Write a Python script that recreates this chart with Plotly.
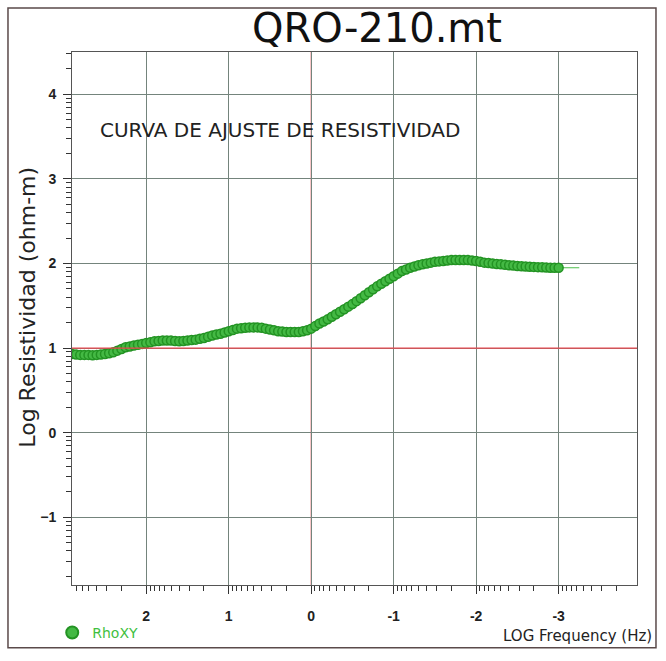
import math
import plotly.graph_objects as go

# ---- data ----
log_freq = [2.90, 2.85, 2.80, 2.75, 2.70, 2.65, 2.60, 2.55, 2.50, 2.45,
            2.40, 2.35, 2.30, 2.25, 2.20, 2.15, 2.10, 2.05, 2.00, 1.95,
            1.90, 1.85, 1.80, 1.75, 1.70, 1.65, 1.60, 1.55, 1.50, 1.45,
            1.40, 1.35, 1.30, 1.25, 1.20, 1.15, 1.10, 1.05, 1.00, 0.95,
            0.90, 0.85, 0.80, 0.75, 0.70, 0.65, 0.60, 0.55, 0.50, 0.45,
            0.40, 0.35, 0.30, 0.25, 0.20, 0.15, 0.10, 0.05, 0.00, -0.05,
            -0.10, -0.15, -0.20, -0.25, -0.30, -0.35, -0.40, -0.45, -0.50, -0.55,
            -0.60, -0.65, -0.70, -0.75, -0.80, -0.85, -0.90, -0.95, -1.00, -1.05,
            -1.10, -1.15, -1.20, -1.25, -1.30, -1.35, -1.40, -1.45, -1.50, -1.55,
            -1.60, -1.65, -1.70, -1.75, -1.80, -1.85, -1.90, -1.95, -2.00, -2.05,
            -2.10, -2.15, -2.20, -2.25, -2.30, -2.35, -2.40, -2.45, -2.50, -2.55,
            -2.60, -2.65, -2.70, -2.75, -2.80, -2.85, -2.90, -2.95, -3.00]
rho_xy = [0.93, 0.925, 0.92, 0.92, 0.92, 0.915, 0.92, 0.925, 0.93, 0.94,
          0.95, 0.97, 0.99, 1.01, 1.02, 1.03, 1.04, 1.05, 1.06, 1.07,
          1.08, 1.085, 1.09, 1.09, 1.09, 1.085, 1.08, 1.085, 1.09, 1.095,
          1.10, 1.11, 1.12, 1.135, 1.15, 1.16, 1.17, 1.185, 1.20, 1.215,
          1.23, 1.235, 1.24, 1.245, 1.245, 1.245, 1.24, 1.23, 1.22, 1.21,
          1.20, 1.195, 1.19, 1.19, 1.19, 1.19, 1.20, 1.21, 1.23, 1.26,
          1.29, 1.315, 1.34, 1.37, 1.40, 1.43, 1.46, 1.49, 1.52, 1.555,
          1.59, 1.625, 1.66, 1.695, 1.73, 1.76, 1.79, 1.82, 1.85, 1.88,
          1.91, 1.93, 1.95, 1.965, 1.98, 1.99, 2.00, 2.01, 2.02, 2.025,
          2.03, 2.035, 2.04, 2.04, 2.04, 2.04, 2.04, 2.035, 2.03, 2.02,
          2.01, 2.005, 2.00, 1.995, 1.99, 1.985, 1.98, 1.975, 1.97, 1.967,
          1.965, 1.962, 1.96, 1.957, 1.955, 1.952, 1.95, 1.95, 1.95]

fit_freq = [2.9, 2.5, 2.0, 1.5, 1.0, 0.7, 0.3, 0.0, -0.5, -1.0,
            -1.5, -1.8, -2.0, -2.5, -3.0, -3.25]
fit_rho = [0.93, 0.93, 1.06, 1.09, 1.20, 1.245, 1.19, 1.23, 1.52, 1.85,
           2.02, 2.04, 2.03, 1.97, 1.95, 1.95]

x_ticks = [2, 1, 0, -1, -2, -3]
y_ticks = [-1, 0, 1, 2, 3, 4]
ref_x = 0
ref_y = 1

series_name = "RhoXY"
title_text = "QRO-210.mt"
subtitle_text = "CURVA DE AJUSTE DE RESISTIVIDAD"
ylabel_text = "Log Resistividad (ohm-m)"
xlabel_text = "LOG Frequency (Hz)"

# minor (log-decade) tick positions
x_minor = [n + math.log10(k) for n in range(-4, 3) for k in range(2, 10)]
x_minor = [v for v in x_minor if -3.95 <= v <= 2.9]
y_minor = [n + math.log10(k) for n in range(-2, 5) for k in range(2, 10)]
y_minor = [v for v in y_minor if -1.8 <= v <= 4.5]

FONT = "Liberation Sans, Arial, sans-serif"
WIDE = "DejaVu Sans, Verdana, sans-serif"
GRID = "#74847c"
RED = "#e8474f"

fig = go.Figure()
fig.add_trace(go.Scatter(
    x=fit_freq, y=fit_rho, mode="lines",
    line=dict(color="#4cc04c", width=1.2), showlegend=False, hoverinfo="skip"))
fig.add_trace(go.Scatter(
    x=log_freq, y=rho_xy, mode="markers", name=series_name,
    marker=dict(symbol="circle", size=9, color="#44b944",
                line=dict(color="#239323", width=1.5))))

fig.add_shape(type="line", xref="x", yref="paper", x0=ref_x, x1=ref_x, y0=0, y1=1,
              line=dict(color=RED, width=1), layer="between")
fig.add_shape(type="line", xref="paper", yref="y", x0=0, x1=1, y0=ref_y, y1=ref_y,
              line=dict(color=RED, width=1.2), layer="above")
# outer frame
fig.add_shape(type="rect", xref="paper", yref="paper",
              x0=-0.1133, x1=1.0336, y0=-0.1176, y1=1.0827,
              line=dict(color="#5a4a4a", width=1.5))

fig.update_layout(
    width=666, height=661,
    margin=dict(l=72, r=29, t=52, b=65),
    paper_bgcolor="white", plot_bgcolor="white",
    font=dict(family=FONT, color="#222"),
    showlegend=True,
    legend=dict(orientation="h", x=-0.035, xanchor="left", y=-0.09, yanchor="middle",
                font=dict(size=14, color="#3fbf3f", family=WIDE),
                bgcolor="rgba(0,0,0,0)", itemsizing="constant"),
    xaxis=dict(range=[2.9, -3.95], tickvals=x_ticks,
               ticktext=[str(v) if v >= 0 else "-" + str(-v) for v in x_ticks],
               ticks="outside", ticklen=8, tickcolor="#333", tickwidth=1,
               ticklabelstandoff=10,
               tickfont=dict(size=14, color="#222", weight="bold"),
               showgrid=True, gridcolor=GRID, gridwidth=1, zeroline=False,
               showline=True, linecolor="#555", linewidth=1, mirror=True,
               minor=dict(tickvals=x_minor, ticks="outside", ticklen=5,
                          tickcolor="#333", showgrid=False)),
    yaxis=dict(range=[-1.8, 4.5], tickvals=y_ticks,
               ticks="outside", ticklen=8, tickcolor="#333", tickwidth=1,
               ticklabelstandoff=4,
               tickfont=dict(size=14, color="#222", weight="bold"),
               showgrid=True, gridcolor=GRID, gridwidth=1, zeroline=False,
               showline=True, linecolor="#555", linewidth=1, mirror=True,
               minor=dict(tickvals=y_minor, ticks="outside", ticklen=5,
                          tickcolor="#333", showgrid=False)),
    annotations=[
        dict(text=title_text, xref="paper", yref="paper", x=0.539, y=1.045,
             xanchor="center", yanchor="middle", showarrow=False,
             font=dict(size=40, color="#111", family=WIDE)),
        dict(text=subtitle_text, xref="paper", yref="paper", x=0.046, y=0.854,
             xanchor="left", yanchor="middle", showarrow=False,
             font=dict(size=20, color="#222", family=WIDE)),
        dict(text=ylabel_text, xref="paper", yref="paper", x=-0.078, y=0.522,
             xanchor="center", yanchor="middle", textangle=-90, showarrow=False,
             font=dict(size=22, color="#222", family=WIDE)),
        dict(text=xlabel_text, xref="paper", yref="paper", x=1.03, y=-0.096,
             xanchor="right", yanchor="middle", showarrow=False,
             font=dict(size=15, color="#222", family=WIDE)),
    ],
)

fig.write_html("out.html")
